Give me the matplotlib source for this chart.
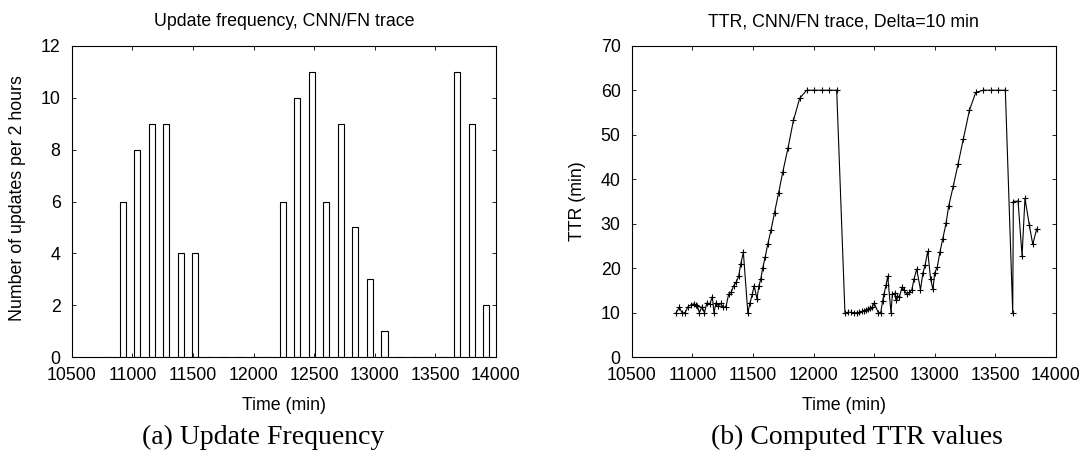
import matplotlib
matplotlib.use("Agg")
import matplotlib.pyplot as plt

# update counts per 2-hour bin (bin centre in minutes)
update_times = [10800, 10920, 11040, 11160, 11280, 11400, 11520, 11640, 11760,
                11880, 12000, 12120, 12240, 12360, 12480, 12600, 12720, 12840,
                12960, 13080, 13200, 13320, 13440, 13560, 13680, 13800, 13920]
update_counts = [0, 6, 8, 9, 9, 4, 4, 0, 0, 0, 0, 0, 6, 10, 11, 6, 9, 5,
                 3, 1, 0, 0, 0, 0, 11, 9, 2]

# computed TTR values
ttr_time = [10866, 10893, 10915, 10940, 10965, 10990, 11010, 11030, 11041, 11058,
            11080, 11100, 11120, 11145, 11165, 11179, 11195, 11216, 11235, 11255,
            11278, 11300, 11320, 11340, 11362, 11382, 11400, 11421, 11458, 11476,
            11495, 11510, 11533, 11550, 11564, 11581, 11601, 11623, 11650, 11678,
            11711, 11746, 11790, 11834, 11886, 11944, 12005, 12066, 12126, 12191,
            12259, 12286, 12313, 12336, 12358, 12378, 12400, 12417, 12433, 12450,
            12466, 12483, 12499, 12535, 12554, 12570, 12581, 12598, 12612, 12639,
            12650, 12669, 12680, 12691, 12708, 12730, 12746, 12768, 12790, 12810,
            12830, 12851, 12882, 12903, 12920, 12942, 12966, 12985, 12999, 13021,
            13043, 13065, 13093, 13115, 13153, 13192, 13236, 13286, 13338, 13401,
            13461, 13522, 13582, 13643, 13648, 13687, 13720, 13744, 13780, 13808,
            13841]
ttr_value = [10.0, 11.2, 10.0, 10.0, 11.4, 11.8, 12.0, 11.8, 11.6, 10.0,
             11.4, 10.0, 12.2, 12.0, 13.6, 10.0, 12.2, 11.6, 12.1, 11.2,
             11.4, 14.2, 14.6, 16.0, 16.9, 18.2, 21.0, 23.6, 10.0, 12.2,
             14.2, 16.1, 13.2, 16.1, 17.5, 20.1, 22.5, 25.5, 28.7, 32.5,
             36.8, 41.6, 47.1, 53.2, 58.2, 60, 60, 60, 60, 60,
             10.0, 10.1, 10.1, 10.0, 10.0, 10.1, 10.3, 10.5, 10.6, 10.8,
             11.0, 11.2, 12.2, 10.0, 10.0, 12.7, 14.2, 16.2, 18.2, 10.0,
             14.2, 14.4, 12.8, 13.8, 13.6, 15.7, 15.1, 14.2, 14.6, 15.1,
             17.7, 19.8, 15.2, 19.0, 20.7, 23.8, 17.5, 15.3, 18.9, 20.3,
             23.7, 26.5, 30.1, 34.0, 38.5, 43.4, 49.1, 55.5, 59.5, 60,
             60, 60, 60, 10.0, 35.0, 35.1, 22.8, 35.7, 29.7, 25.4,
             28.8]

W, H = 1085, 457
FS = 12.8
plt.rcParams['font.family'] = ['Liberation Sans', 'DejaVu Sans']
plt.rcParams['font.size'] = FS

fig = plt.figure(figsize=(W / 100, H / 100), dpi=100)


def px_axes(left, top, right, bottom):
    return fig.add_axes([left / W, 1 - bottom / H, (right - left) / W, (bottom - top) / H])


def style(ax):
    for s in ax.spines.values():
        s.set_linewidth(0.8)
    ax.tick_params(direction='in', top=True, right=True, length=3.2, width=0.6,
                   labelsize=FS)
    ax.tick_params(axis='x', pad=7)
    ax.tick_params(axis='y', pad=8)
    ax.set_xlim(10500, 14000)
    ax.set_xticks(range(10500, 14001, 500))


# (a) update frequency
ax1 = px_axes(71.7, 45.7, 496, 357.3)
ax1.bar(update_times, update_counts, width=50, color='white', edgecolor='black', linewidth=0.8)
style(ax1)
ax1.set_ylim(0, 12)
ax1.set_yticks(range(0, 13, 2))

# (b) TTR values
ax2 = px_axes(631.7, 45.7, 1056, 357.3)
ax2.plot(ttr_time, ttr_value, color='black', linewidth=0.8, marker='+',
         markersize=4.5, markeredgewidth=0.8)
style(ax2)
ax2.set_ylim(0, 70)
ax2.set_yticks(range(0, 71, 10))

fig.text(283.8 / W, 1 - 22 / H, 'Update frequency, CNN/FN trace', ha='center', va='center')
fig.text(843.8 / W, 1 - 22 / H, 'TTR, CNN/FN trace, Delta=10 min', ha='center', va='center')
fig.text(283.8 / W, 1 - 405 / H, 'Time (min)', ha='center', va='center')
fig.text(843.8 / W, 1 - 405 / H, 'Time (min)', ha='center', va='center')
fig.text(18 / W, 1 - 198 / H, 'Number of updates per 2 hours', ha='center', va='center',
         rotation=90)
fig.text(577 / W, 1 - 201 / H, 'TTR (min)', ha='center', va='center', rotation=90)

fig.text(263 / W, 1 - 437 / H, '(a) Update Frequency', ha='center', va='center',
         fontsize=20, family=['Liberation Serif', 'DejaVu Serif'])
fig.text(857 / W, 1 - 437 / H, '(b) Computed TTR values', ha='center', va='center',
         fontsize=20, family=['Liberation Serif', 'DejaVu Serif'])

fig.savefig('out.png', dpi=100)
